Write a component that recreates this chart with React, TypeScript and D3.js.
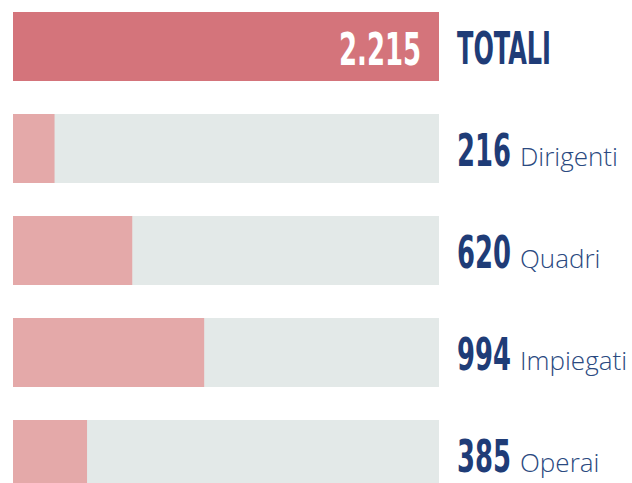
import React, { useLayoutEffect, useRef, useState } from "react";
import * as d3 from "d3";

const categories = ["Dirigenti", "Quadri", "Impiegati", "Operai"];
const values = [216, 620, 994, 385];
const totalLabel = "TOTALI";
const totalValue = 2215;

const W = 632;
const H = 483;
const NAVY = "#1f3c77";
const LABEL_BLUE = "#2a4980";
const TOTAL_FILL = "#d4747b";
const PART_FILL = "#e4a9a9";
const TRACK_FILL = "#e3e9e8";
const NUM_FONT = "'Liberation Sans Narrow', 'DejaVu Sans Condensed', 'DejaVu Sans', sans-serif";
const LABEL_FONT = "'Open Sans', 'Noto Sans', sans-serif";

const fmt = (v: number) => d3.format(",")(v).replace(/,/g, ".");
const numWidth = (s: string) =>
  s.split("").reduce((acc, ch) => acc + (ch === "." ? 10 : 18), 0);

function FitText(props: {
  x: number;
  y: number;
  width: number;
  anchor?: "start" | "end";
  fill: string;
  size: number;
  children: string;
}) {
  const ref = useRef<SVGTextElement>(null);
  const [sx, setSx] = useState(1);
  useLayoutEffect(() => {
    if (ref.current) {
      const natural = ref.current.getComputedTextLength();
      if (natural > 0) setSx(props.width / natural);
    }
  }, [props.width, props.children, props.size]);
  return (
    <g transform={`translate(${props.x},${props.y}) scale(${sx},1)`}>
      <text
        ref={ref}
        x={0}
        y={0}
        textAnchor={props.anchor || "start"}
        fill={props.fill}
        fontFamily={NUM_FONT}
        fontWeight={700}
        fontSize={props.size}
      >
        {props.children}
      </text>
    </g>
  );
}

export default function App() {
  const x = d3.scaleLinear().domain([0, totalValue]).range([13, 439]);
  const rows = [totalLabel, ...categories];
  const y = d3
    .scaleBand<string>()
    .domain(rows)
    .range([12, 489])
    .paddingInner(33 / 102)
    .paddingOuter(0);
  const bh = y.bandwidth();
  const totalStr = fmt(totalValue);
  const yT = y(totalLabel) as number;

  return (
    <svg
      width={W}
      height={H}
      style={{ position: "absolute", left: 0, top: 0, display: "block" }}
    >
      <rect width={W} height={H} fill="#ffffff" />
      <rect
        x={x(0)}
        y={yT}
        width={x(totalValue) - x(0)}
        height={bh}
        fill={TOTAL_FILL}
      />
      <FitText x={421} y={yT + 52.5} width={numWidth(totalStr)} anchor="end" fill="#ffffff" size={45}>
        {totalStr}
      </FitText>
      <FitText x={457} y={yT + 51.5} width={94} fill={NAVY} size={45}>
        {totalLabel}
      </FitText>
      {categories.map((c, i) => {
        const y0 = y(c) as number;
        const s = fmt(values[i]);
        const w = numWidth(s);
        return (
          <g key={c}>
            <rect x={x(0)} y={y0} width={x(totalValue) - x(0)} height={bh} fill={TRACK_FILL} />
            <rect x={x(0)} y={y0} width={x(values[i]) - x(0)} height={bh} fill={PART_FILL} />
            <FitText x={457} y={y0 + 52} width={w} fill={NAVY} size={44}>
              {s}
            </FitText>
            <text
              x={457 + w + 9}
              y={y0 + 52}
              fill={LABEL_BLUE}
              fontFamily={LABEL_FONT}
              fontWeight={300}
              fontSize={26}
            >
              {c}
            </text>
          </g>
        );
      })}
    </svg>
  );
}
